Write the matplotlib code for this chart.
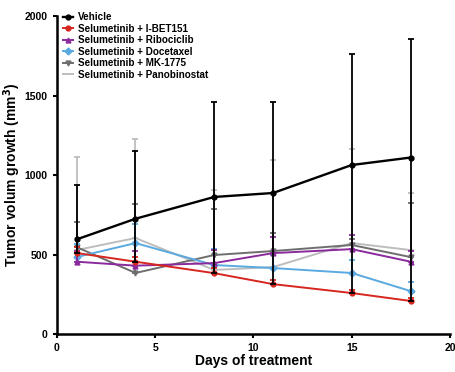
import numpy as np
import matplotlib.pyplot as plt

plt.rcParams['font.family'] = ['Liberation Sans', 'DejaVu Sans']
plt.rcParams['font.weight'] = 'bold'

days = [1, 4, 8, 11, 15, 18]
labels = ['Vehicle', 'Selumetinib + I-BET151', 'Selumetinib + Ribociclib',
          'Selumetinib + Docetaxel', 'Selumetinib + MK-1775', 'Selumetinib + Panobinostat']

vehicle = [595, 725, 862, 887, 1063, 1110]
vehicle_up = [340, 425, 598, 572, 697, 743]
vehicle_down = [85, 270, 480, 573, 805, 902]
ibet = [510, 455, 383, 314, 258, 208]
ibet_up = [40, 30, 30, 25, 20, 20]
ribo = [455, 430, 446, 509, 534, 455]
ribo_up = [70, 90, 80, 100, 90, 70]
doce = [484, 572, 434, 415, 384, 270]
doce_up = [80, 120, 100, 80, 80, 60]
mk = [547, 384, 497, 522, 560, 484]
mk_up = [158, 434, 289, 113, 37, 340]
pano = [528, 604, 403, 421, 572, 528]
pano_up = [585, 622, 500, 673, 591, 359]

series = [vehicle, ibet, ribo, doce, mk, pano]
ups = [vehicle_up, ibet_up, ribo_up, doce_up, mk_up, pano_up]
downs = [vehicle_down, [0] * 6, [0] * 6, [0] * 6, [0] * 6, [0] * 6]
colors = ['#000000', '#d7261e', '#8b2a9c', '#5aa9e0', '#6e6e6e', '#bdbdbd']
markers = ['o', 'o', '^', 'D', 'v', None]

fig = plt.figure(figsize=(4.55, 3.72), dpi=100)
ax = fig.add_axes([0.125, 0.102, 0.864, 0.855])

handles = []
# draw back-to-front so vehicle sits on top
for i in [5, 4, 3, 2, 1, 0]:
    cont = ax.errorbar(days, series[i], yerr=[downs[i], ups[i]], color=colors[i],
                       marker=markers[i], markersize=3.5,
                       linewidth=1.7 if i == 0 else 1.4, elinewidth=1.3,
                       capsize=2, capthick=1.3, zorder=3 + (6 - i))
    handles.append(cont[0])

ax.legend(handles[::-1], labels, loc='upper left', bbox_to_anchor=(0.0, 1.03), frameon=False,
          fontsize=7.1, handlelength=1.0, handletextpad=0.5, labelspacing=0.15,
          borderaxespad=0.2)

ax.set_xlim(0, 20)
ax.set_ylim(0, 2000)
ax.set_xticks([0, 5, 10, 15, 20])
ax.set_yticks([0, 500, 1000, 1500, 2000])
ax.tick_params(labelsize=7.5, width=1.5, length=3)
for s in ['top', 'right']:
    ax.spines[s].set_visible(False)
for s in ['left', 'bottom']:
    ax.spines[s].set_linewidth(1.8)

ax.set_xlabel('Days of treatment', fontsize=10, fontweight='bold', labelpad=1)
ax.set_ylabel('Tumor volum growth (mm$^\\mathbf{3}$)', fontsize=10, fontweight='bold', labelpad=1)

plt.savefig('out.png', dpi=100)
